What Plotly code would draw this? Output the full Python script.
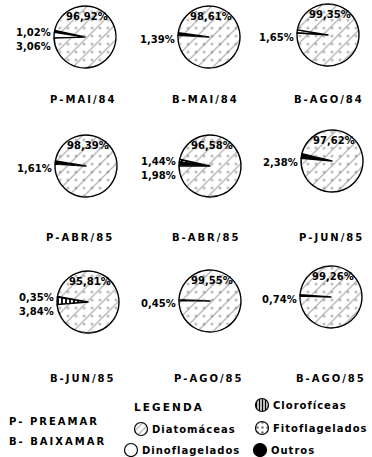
import plotly.graph_objects as go

# Phytoplankton composition (%) per sampling: P = preamar, B = baixamar
amostras = ["P-MAI/84", "B-MAI/84", "B-AGO/84",
            "P-ABR/85", "B-ABR/85", "P-JUN/85",
            "B-JUN/85", "P-AGO/85", "B-AGO/85"]
diatomaceas    = [96.92, 98.61, 99.35, 98.39, 96.58, 97.62, 95.81, 99.55, 99.26]
outros         = [1.02, 1.39, 0.00, 1.61, 1.98, 2.38, 0.00, 0.00, 0.00]
dinoflagelados = [3.06, 0.00, 1.65, 0.00, 0.00, 0.00, 0.35, 0.45, 0.74]
cloroficeas    = [0.00, 0.00, 0.00, 0.00, 1.44, 0.00, 3.84, 0.00, 0.00]

legenda_grupos = ["Clorofíceas", "Diatomáceas", "Fitoflagelados", "Dinoflagelados", "Outros"]
legenda_mare = ["P- PREAMAR", "B- BAIXAMAR"]

W, H = 372, 457
FONT = "DejaVu Sans"

# pie centres (px) and radius
centros = [(85, 37), (209, 37), (328, 35),
           (86, 166), (210, 166), (332, 161),
           (88, 302), (210, 301), (331, 297)]
R = 31
rotulo_y = [99, 99, 99, 237, 237, 237, 378, 378, 378]
rotulo_x = [82, 205, 328, 79, 205, 330, 82, 208, 330]


def px(x):
    return min(max(x / W, 0), 1)


def py(y):
    return min(max(1 - y / H, 0), 1)


def fmt(v):
    return f"{v:.2f}".replace(".", ",") + "%"


def espaco(t, sep="\u2009"):
    return sep.join(t)


# slice styles: (colour, pattern shape, pattern colour)
estilos = {
    "Clorofíceas": ("white", "|", "black"),
    "Diatomáceas": ("white", "/", "#a0a0a0"),
    "Fitoflagelados": ("white", ".", "#777777"),
    "Dinoflagelados": ("white", "", "black"),
    "Outros": ("black", "", "black"),
}

fig = go.Figure()
anots = []

for i, nome in enumerate(amostras):
    cx, cy = centros[i]
    menores = []
    for grp, serie in (("Outros", outros), ("Clorofíceas", cloroficeas),
                       ("Dinoflagelados", dinoflagelados)):
        if serie[i] > 0:
            menores.append((grp, serie[i]))
    menores.sort(key=lambda t: t[1])
    labels = [g for g, _ in menores] + ["Diatomáceas"]
    vals = [v for _, v in menores] + [diatomaceas[i]]
    tot_menor = sum(v for _, v in menores)
    rot = 270 + tot_menor * 3.6 * 0.6
    dom = dict(x=[px(cx - R), px(cx + R)], y=[py(cy + R), py(cy - R)])
    cols = [estilos[l][0] for l in labels]
    shapes = [estilos[l][1] for l in labels]
    fgs = [estilos[l][2] for l in labels]
    fig.add_trace(go.Pie(
        labels=labels, values=vals, sort=False, direction="counterclockwise",
        rotation=rot, domain=dom, textinfo="none", hoverinfo="label+percent",
        showlegend=False,
        marker=dict(colors=cols, line=dict(color="black", width=1.4),
                    pattern=dict(shape=shapes, fgcolor=fgs, bgcolor=cols,
                                 size=[4 if s == "|" else 11 for s in shapes],
                                 solidity=[0.45 if s == "|" else 0.1 for s in shapes],
                                 fillmode="replace"))))
    # dotted overlay on the diatom slice
    fig.add_trace(go.Pie(
        labels=labels, values=vals, sort=False, direction="counterclockwise",
        rotation=rot, domain=dom, textinfo="none", hoverinfo="skip",
        showlegend=False,
        marker=dict(colors=["rgba(0,0,0,0)"] * len(labels), line=dict(width=0),
                    pattern=dict(shape=[""] * len(menores) + ["."],
                                 fgcolor="#808080", bgcolor="rgba(0,0,0,0)",
                                 size=8, solidity=0.12, fillmode="overlay"))))

    # main percentage inside the pie
    anots.append(dict(x=px(cx + 2), y=py(cy - R * 0.66), text=fmt(diatomaceas[i]),
                      xanchor="center", yanchor="middle", showarrow=False,
                      font=dict(family=FONT, size=10, color="black")))
    # minor group percentages to the left
    if len(menores) == 1:
        offs = [2]
    else:
        offs = [-5, 9]
    for (grp, v), o in zip(menores, offs):
        anots.append(dict(x=px(cx - R - 1), y=py(cy + o), text=fmt(v),
                          xanchor="right", yanchor="middle", showarrow=False,
                          font=dict(family=FONT, size=10, color="black")))
    # sample name
    anots.append(dict(x=px(rotulo_x[i]), y=py(rotulo_y[i]), text=espaco(nome),
                      xanchor="center", yanchor="middle", showarrow=False,
                      font=dict(family=FONT, size=10, color="black")))

# legend block
anots.append(dict(x=px(168), y=py(407), text=espaco("LEGENDA"),
                  xanchor="center", yanchor="middle", showarrow=False,
                  font=dict(family=FONT, size=10.5, color="black")))
for txt, yy in zip(legenda_mare, [421, 441]):
    anots.append(dict(x=px(7), y=py(yy), text=espaco(txt), xanchor="left", yanchor="middle",
                      showarrow=False, font=dict(family=FONT, size=10, color="black")))

icones = [(262, 405), (141, 429), (262, 428), (131, 450), (260, 450)]
r_ic = 6.5
for grp, (ix, iy) in zip(legenda_grupos, icones):
    c, s, fg = estilos[grp]
    fig.add_trace(go.Pie(
        labels=[grp], values=[1], sort=False, textinfo="none", hoverinfo="label",
        showlegend=False,
        domain=dict(x=[px(ix - r_ic), px(ix + r_ic)], y=[py(iy + r_ic), py(iy - r_ic)]),
        marker=dict(colors=[c], line=dict(color="black", width=1.2),
                    pattern=dict(shape=[s], fgcolor=[fg], bgcolor=[c],
                                 size=[3 if s == "|" else 5],
                                 solidity=[0.5 if s == "|" else 0.2],
                                 fillmode="replace"))))
    anots.append(dict(x=px(ix + r_ic + 2), y=py(iy), text=espaco(grp, "\u200a"),
                      xanchor="left", yanchor="middle", showarrow=False,
                      font=dict(family=FONT, size=10, color="black")))

fig.update_layout(
    width=W, height=H, margin=dict(l=0, r=0, t=0, b=0),
    paper_bgcolor="white", plot_bgcolor="white",
    annotations=anots,
    font=dict(family=FONT, weight="bold"),
)
for a in fig.layout.annotations:
    a.font.weight = "bold"

fig.write_html("out.html")
